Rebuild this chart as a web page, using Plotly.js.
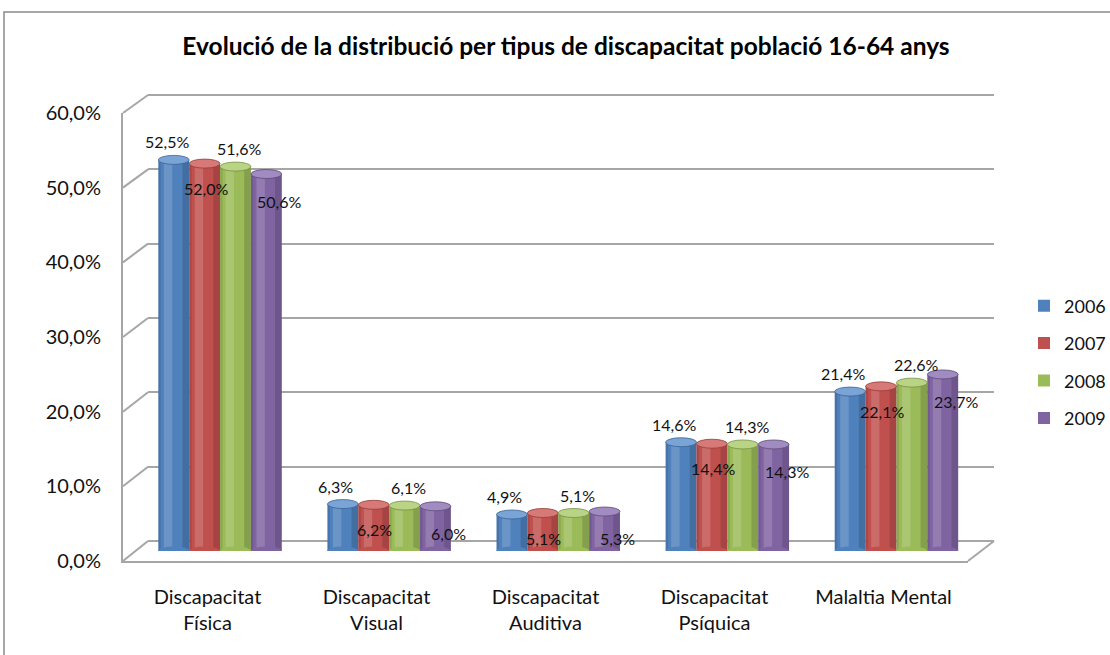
<!DOCTYPE html>
<html>
<head>
<meta charset="utf-8">
<script src="https://cdn.plot.ly/plotly-3.0.1.min.js"></script>
<style>html,body{margin:0;padding:0;background:#fff;}#chart{width:1110px;height:655px;}</style>
</head>
<body>
<div id="chart"></div>
<script>
// ---- data ----
const categories = ["Discapacitat<br>Física", "Discapacitat<br>Visual", "Discapacitat<br>Auditiva", "Discapacitat<br>Psíquica", "Malaltia Mental"];
const seriesNames = ["2006", "2007", "2008", "2009"];
const v2006 = [52.5, 6.3, 4.9, 14.6, 21.4];
const v2007 = [52.0, 6.2, 5.1, 14.4, 22.1];
const v2008 = [51.6, 6.1, 5.1, 14.3, 22.6];
const v2009 = [50.6, 6.0, 5.3, 14.3, 23.7];
const yTickVals = [0, 10, 20, 30, 40, 50, 60];
const yTickText = ["0,0%", "10,0%", "20,0%", "30,0%", "40,0%", "50,0%", "60,0%"];
const title = "Evolució de la distribució per tipus de discapacitat població 16-64 anys";

// ---- styling / geometry ----
const W = 1110, H = 655;
const colors = ["#4F81BD", "#C0504D", "#9BBB59", "#8064A2"];
const topColors = ["#7aa3d6", "#d77a77", "#b8d484", "#a08cc0"];
const edgeColors = ["#3a6496", "#963c3a", "#768f42", "#5f4a7a"];
const labelShift = [{dx: -7, dy: 18}, {dx: 1, dy: -25}, {dx: 4, dy: 18}, {dx: 13, dy: -27}];
const FONT = "Lato, 'Open Sans', sans-serif";
const gridColor = "#a6a6a6";
const back = {xl: 148, xr: 994, y0: 541, ytop: 95};
const front = {xl: 123, xr: 968, y0: 561, ytop: 113};
const bars = {xl: 135.5, xr: 981, y0: 551, ytop: 104};
const bargap = 0.27;
const yMax = 60;
const yMaxBack = 61; // a little headroom so the 60% gridline is drawn
const px = x => x / W;
const py = y => 1 - y / H;

const seriesVals = [v2006, v2007, v2008, v2009];
const idx = categories.map((c, i) => i);

const traces = [
  {type: "scatter", x: [], y: [], xaxis: "x", yaxis: "y", showlegend: false, hoverinfo: "skip"},
  {type: "scatter", x: [], y: [], xaxis: "x2", yaxis: "y2", showlegend: false, hoverinfo: "skip"}
];
seriesVals.forEach((vals, i) => {
  traces.push({
    type: "bar", name: seriesNames[i], x: idx, y: vals,
    xaxis: "x3", yaxis: "y3", legendgroup: seriesNames[i],
    marker: {color: colors[i], line: {width: 0}},
    hoverinfo: "name+y"
  });
});

// shapes
const shapes = [];
// outer border
shapes.push({type: "rect", xref: "paper", yref: "paper", x0: px(4), y0: py(12), x1: px(1120), y1: py(670), line: {color: "#8a8a8a", width: 1.5}});
// depth diagonals for each gridline
yTickVals.forEach(v => {
  const fy = front.y0 - (front.y0 - front.ytop) * v / yMax;
  const by = back.y0 - (back.y0 - back.ytop) * v / yMax;
  shapes.push({type: "line", xref: "paper", yref: "paper", x0: px(front.xl), y0: py(fy), x1: px(back.xl), y1: py(by), line: {color: gridColor, width: 2}});
});
// right floor diagonal
shapes.push({type: "line", xref: "paper", yref: "paper", x0: px(front.xr), y0: py(front.y0), x1: px(back.xr), y1: py(back.y0), line: {color: gridColor, width: 2}});

const w = (1 - bargap) / seriesVals.length;
const annotations = [];
seriesVals.forEach((vals, i) => {
  vals.forEach((v, j) => {
    const c = j + (i - (seriesVals.length - 1) / 2) * w;
    shapes.push({type: "rect", xref: "x3", yref: "y3", x0: c - w * 0.32, x1: c - w * 0.05, y0: 0, y1: v, line: {width: 0}, fillcolor: "rgba(255,255,255,0.16)"});
    shapes.push({type: "rect", xref: "x3", yref: "y3", x0: c + w * 0.28, x1: c + w * 0.5, y0: 0, y1: v, line: {width: 0}, fillcolor: "rgba(0,0,0,0.14)"});
    shapes.push({type: "rect", xref: "x3", yref: "y3", x0: c - w * 0.5, x1: c - w * 0.42, y0: 0, y1: v, line: {width: 0}, fillcolor: "rgba(0,0,0,0.10)"});
    shapes.push({type: "circle", xref: "x3", yref: "y3", ysizemode: "pixel", yanchor: 0, y0: -4.5, y1: 4.5, x0: c - w / 2, x1: c + w / 2, fillcolor: colors[i], line: {width: 0}});
    shapes.push({type: "circle", xref: "x3", yref: "y3", ysizemode: "pixel", yanchor: v, y0: -4.5, y1: 4.5, x0: c - w / 2, x1: c + w / 2, fillcolor: topColors[i], line: {color: edgeColors[i], width: 0.8}});
    annotations.push({
      xref: "x3", yref: "y3", x: c, y: v, showarrow: false,
      xshift: labelShift[i].dx, yshift: labelShift[i].dy,
      text: v.toFixed(1).replace(".", ",") + "%",
      font: {family: FONT, size: 16, color: "#111"}
    });
  });
});

const layout = {
  width: W, height: H,
  margin: {l: 0, r: 0, t: 0, b: 0, autoexpand: false},
  paper_bgcolor: "#ffffff", plot_bgcolor: "rgba(0,0,0,0)",
  font: {family: FONT, color: "#111"},
  title: {text: "<b>" + title + "</b>", font: {family: FONT, size: 24.5, color: "#000"}, xref: "container", yref: "container", x: 566 / W, xanchor: "center", y: py(46), yanchor: "middle"},
  barmode: "group", bargap: bargap, bargroupgap: 0,
  showlegend: true,
  legend: {xref: "container", yref: "container", x: px(1024), xanchor: "left", y: py(362), yanchor: "middle", font: {family: FONT, size: 18, color: "#111"}, tracegroupgap: 11, bgcolor: "rgba(0,0,0,0)", itemwidth: 30},
  // back wall
  xaxis: {domain: [px(back.xl), px(back.xr)], range: [-0.5, 4.5], anchor: "y", visible: false, fixedrange: true},
  yaxis: {domain: [py(back.y0), py(back.y0 - (back.y0 - back.ytop) * yMaxBack / yMax)], range: [0, yMaxBack], anchor: "x", showgrid: true, gridcolor: gridColor, gridwidth: 2, tickmode: "array", tickvals: yTickVals, zeroline: true, zerolinecolor: gridColor, zerolinewidth: 2, showticklabels: false, ticks: "", showline: false, fixedrange: true},
  // front axes
  xaxis2: {domain: [px(front.xl), px(front.xr)], range: [-0.5, 4.5], anchor: "y2", showgrid: false, zeroline: false, showline: true, linecolor: gridColor, linewidth: 2, tickmode: "array", tickvals: idx, ticktext: categories, ticks: "", ticklabelstandoff: 17, tickfont: {family: FONT, size: 20, color: "#111"}, fixedrange: true},
  yaxis2: {domain: [py(front.y0), py(front.ytop)], range: [0, yMax], anchor: "x2", showgrid: false, zeroline: false, showline: true, linecolor: gridColor, linewidth: 2, tickmode: "array", tickvals: yTickVals, ticktext: yTickText, ticks: "", ticklabelstandoff: 16, tickfont: {family: FONT, size: 20, color: "#111"}, fixedrange: true},
  // bars
  xaxis3: {domain: [px(bars.xl), px(bars.xr)], range: [-0.5, 4.5], anchor: "y3", visible: false, fixedrange: true},
  yaxis3: {domain: [py(bars.y0), py(bars.ytop)], range: [0, yMax], anchor: "x3", visible: false, fixedrange: true},
  shapes: shapes,
  annotations: annotations
};

Plotly.newPlot("chart", traces, layout, {displayModeBar: false});
</script>
</body>
</html>
